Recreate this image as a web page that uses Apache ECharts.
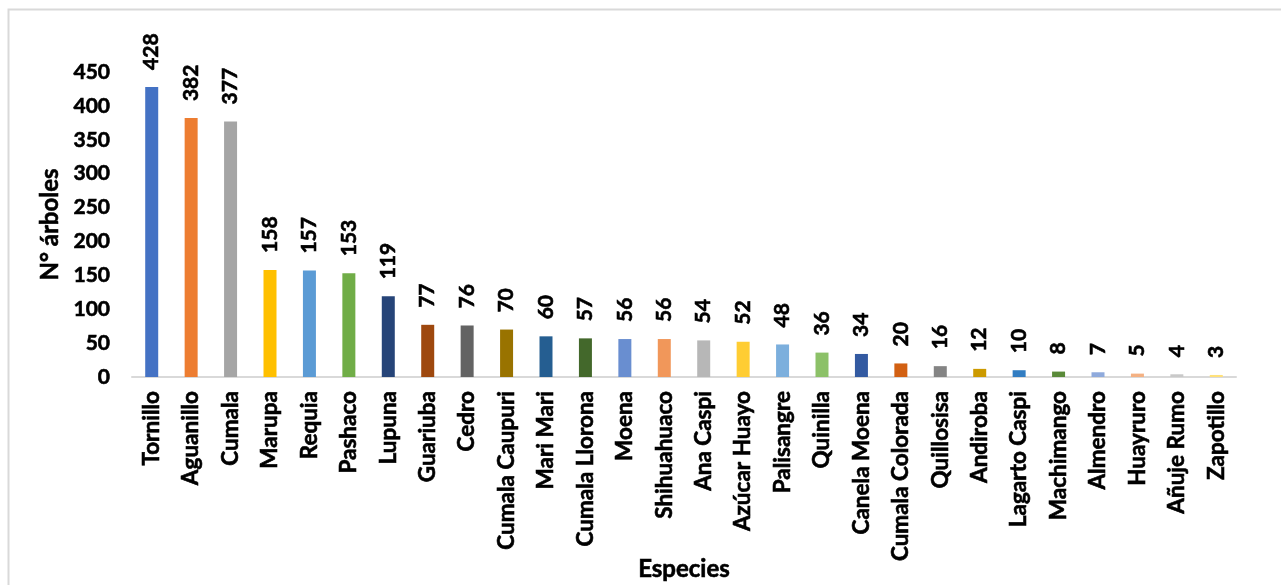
<!DOCTYPE html>
<html>
<head>
<meta charset="utf-8">
<script src="https://cdn.jsdelivr.net/npm/echarts@6/dist/echarts.min.js"></script>
<style>
  html, body { margin: 0; padding: 0; background: #ffffff; }
  #chart { width: 1281px; height: 585px; }
</style>
</head>
<body>
<div id="chart"></div>
<script>
// Species counted in the inventory and their number of trees
const species = [
  'Tornillo', 'Aguanillo', 'Cumala', 'Marupa', 'Requia', 'Pashaco', 'Lupuna',
  'Guariuba', 'Cedro', 'Cumala Caupuri', 'Mari Mari', 'Cumala Llorona', 'Moena',
  'Shihuahuaco', 'Ana Caspi', 'Azúcar Huayo', 'Palisangre', 'Quinilla',
  'Canela Moena', 'Cumala Colorada', 'Quillosisa', 'Andiroba', 'Lagarto Caspi',
  'Machimango', 'Almendro', 'Huayruro', 'Añuje Rumo', 'Zapotillo'
];
const trees = [
  428, 382, 377, 158, 157, 153, 119, 77, 76, 70, 60, 57, 56,
  56, 54, 52, 48, 36, 34, 20, 16, 12, 10, 8, 7, 5, 4, 3
];
// One colour per bar (Office palette with its shades and tints)
const barColors = [
  '#4472C4', '#ED7D31', '#A5A5A5', '#FFC000', '#5B9BD5', '#70AD47',
  '#264478', '#9E480E', '#636363', '#997300', '#255E91', '#43682B',
  '#698ED0', '#F1975A', '#B7B7B7', '#FFCD33', '#7CAFDD', '#8CC168',
  '#335AA1', '#D26012', '#848484', '#CC9A00', '#327DC2', '#5A8A39',
  '#8FAADC', '#F4B183', '#C9C9C9', '#FFE17A'
];
const yTitle = 'N° árboles';
const xTitle = 'Especies';

const FONT = 'Lato';
// shared heavy black text style
const heavy = (size) => ({
  color: '#000', fontWeight: 'bold', fontSize: size, fontFamily: FONT,
  textBorderColor: '#000', textBorderWidth: 0.6
});

const chart = echarts.init(document.getElementById('chart'), null, { renderer: 'canvas' });

chart.setOption({
  animation: false,
  backgroundColor: '#ffffff',
  textStyle: { fontFamily: FONT },
  graphic: [{
    type: 'rect',
    left: 6, top: 7,
    shape: { width: 1290, height: 600 },
    style: { fill: 'none', stroke: '#D9D9D9', lineWidth: 2 },
    silent: true
  }],
  grid: {
    left: 132, right: 45, top: 72, bottom: 208,
    containLabel: false, outerBoundsMode: 'none'
  },
  xAxis: {
    type: 'category',
    data: species,
    axisLine: { show: true, lineStyle: { color: '#D9D9D9', width: 2 } },
    axisTick: { show: false },
    axisLabel: Object.assign({ interval: 0, rotate: 90, margin: 14 }, heavy(22.5)),
    name: xTitle,
    nameLocation: 'middle',
    nameGap: 180,
    nameMoveOverlap: false,
    nameTextStyle: heavy(24)
  },
  yAxis: {
    type: 'value',
    min: 0, max: 450, interval: 50,
    splitLine: { show: false },
    axisLine: { show: false },
    axisTick: { show: false },
    axisLabel: Object.assign({ margin: 22 }, heavy(21)),
    name: yTitle,
    nameLocation: 'middle',
    nameGap: 70,
    nameRotate: 90,
    nameMoveOverlap: false,
    nameTextStyle: heavy(24)
  },
  series: [{
    type: 'bar',
    data: trees.map((v, i) => ({ value: v, itemStyle: { color: barColors[i] } })),
    barWidth: 13,
    label: Object.assign({
      show: true,
      position: 'top',
      rotate: 90,
      align: 'left',
      verticalAlign: 'middle',
      distance: 17
    }, heavy(21))
  }]
});
</script>
</body>
</html>
